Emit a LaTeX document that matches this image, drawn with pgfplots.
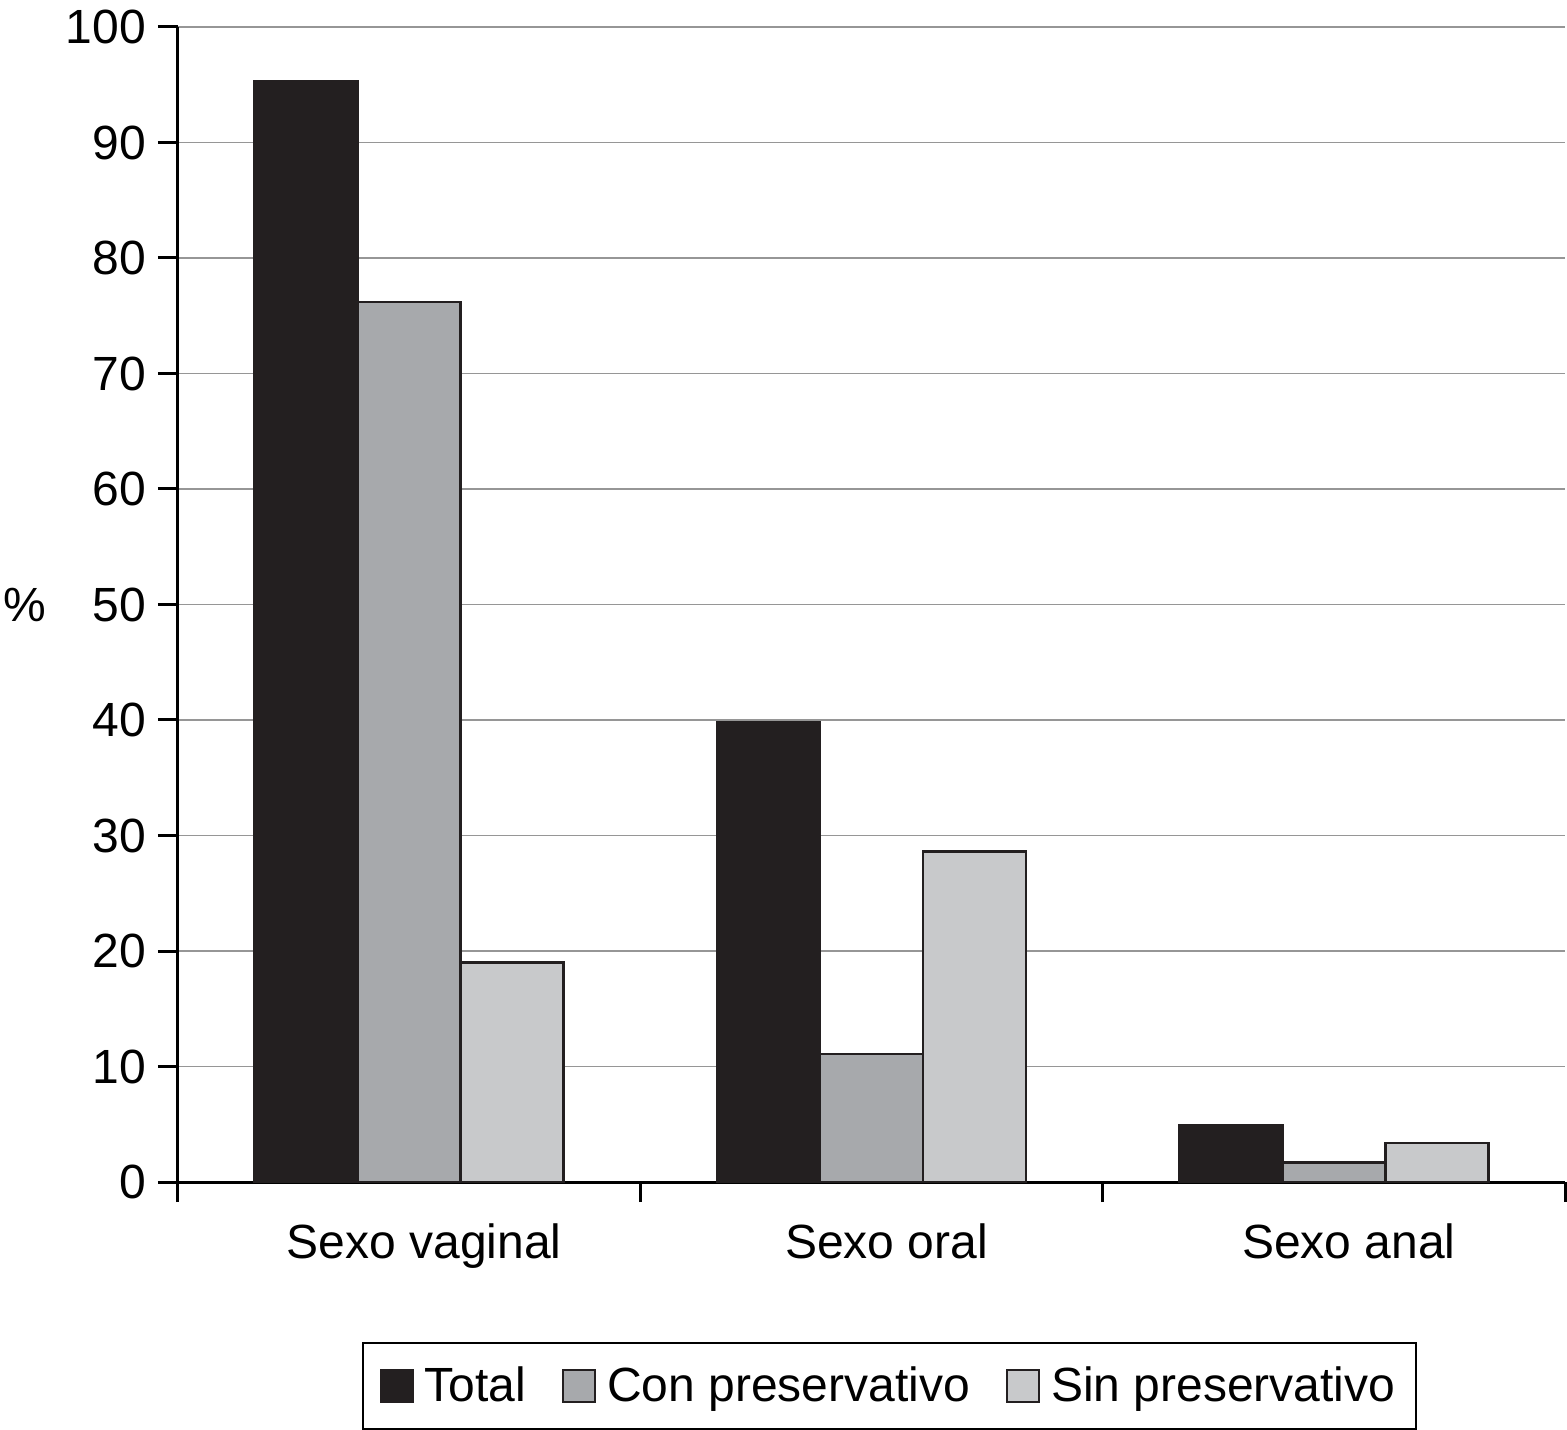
\documentclass[border=0pt]{standalone}
\usepackage{pgfplots}
\pgfplotsset{compat=1.18}
\usepackage{fontspec}
\setmainfont{Liberation Sans}
\definecolor{cTotal}{RGB}{35,31,32}
\definecolor{cCon}{RGB}{167,169,172}
\definecolor{cSin}{RGB}{200,201,203}
\definecolor{cGrid}{RGB}{150,150,150}
\begin{document}
\begin{tikzpicture}
\begin{axis}[
    name=ax,
    scale only axis,
    width=693.5pt, height=577.5pt,
    ybar=0pt, bar width=51.5pt,
    axis lines*=left,
    axis line style={line width=1.5pt, black},
    xmin=0, xmax=3, ymin=0, ymax=100,
    xtick={0,1,2,3}, xticklabels={},
    ytick={0,10,...,100},
    extra x ticks={0.5,1.5,2.5},
    extra x tick labels={Sexo vaginal, Sexo oral, Sexo anal},
    extra x tick style={major tick length=0pt, grid=none,
        xticklabel style={yshift=-17.5pt, xshift=7.5pt}},
    tick align=outside, major tick length=10pt,
    tick style={line width=1.5pt, black},
    ymajorgrids, grid style={cGrid, line width=0.7pt},
    /pgf/number format/assume math mode=true,
    yticklabel style={font=\fontsize{24}{29}\selectfont, xshift=-2.5pt},
    xticklabel style={font=\fontsize{24}{29}\selectfont},
    ylabel={\%},
    ylabel style={rotate=-90, at={(rel axis cs:0,0.5)}, anchor=center,
        xshift=-76.5pt, font=\fontsize{24}{29}\selectfont},
    legend columns=3,
    legend style={at={(0.513,0)}, anchor=north, yshift=-80pt,
        draw=black, line width=1.2pt,
        font=\fontsize{24}{29}\selectfont,
        inner xsep=8.5pt, inner ysep=10pt,
        /tikz/every odd column/.append style={column sep=3.5pt},
        /tikz/every even column/.append style={column sep=16pt}},
    legend image code/.code={\draw[#1, line width=1pt] (0pt,-8pt) rectangle (16pt,8pt);},
]
\addplot[fill=cTotal, draw=cTotal, line width=1.2pt]
    coordinates {(0.5,95.3) (1.5,39.8) (2.5,4.9)};
\addlegendentry{Total}
\addplot[fill=cCon, draw=cTotal, line width=1.2pt]
    coordinates {(0.5,76.2) (1.5,11.1) (2.5,1.7)};
\addlegendentry{Con preservativo}
\addplot[fill=cSin, draw=cTotal, line width=1.2pt]
    coordinates {(0.5,19.0) (1.5,28.6) (2.5,3.4)};
\addlegendentry{Sin preservativo}
\end{axis}
\pgfresetboundingbox
\path[use as bounding box] ([xshift=-89pt,yshift=-123.5pt]ax.south west)
    rectangle ([xshift=694.5pt,yshift=591pt]ax.south west);
\end{tikzpicture}
\end{document}
